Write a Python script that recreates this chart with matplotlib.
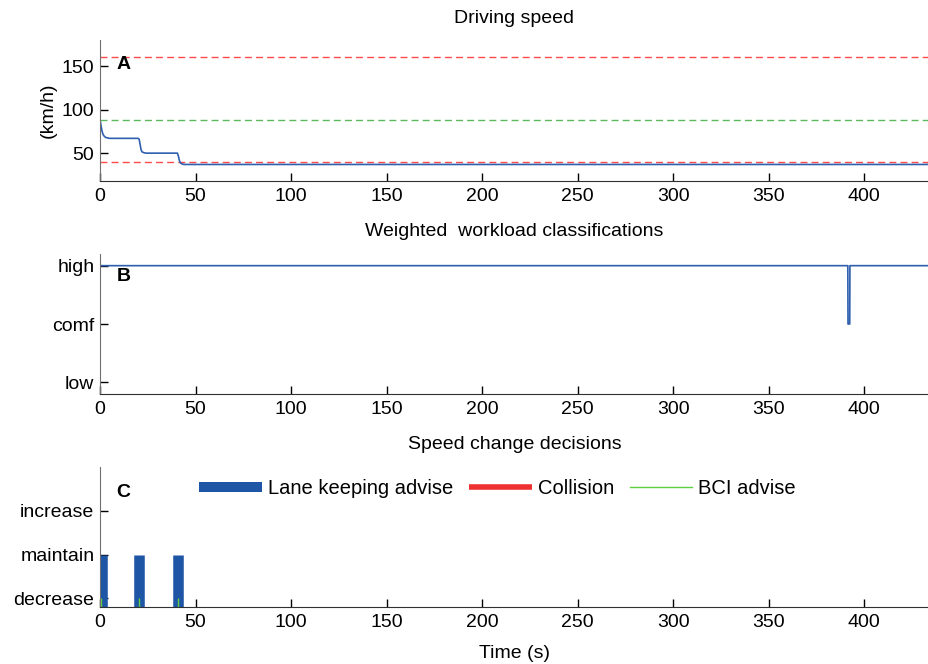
import numpy as np
import matplotlib
matplotlib.use("Agg")
import matplotlib.pyplot as plt
from matplotlib.lines import Line2D

plt.rcParams['font.family'] = ['Liberation Sans', 'DejaVu Sans']
plt.rcParams['font.size'] = 14

# ---- data ----
# driving speed (km/h)
speed_t = [0, 0.5, 1, 1.5, 2, 3, 4, 5, 20, 20.5, 21, 21.5, 22, 23, 24,
           40.5, 41, 41.5, 42, 43, 44, 434]
speed_v = [88.5, 82, 76, 72, 70, 68, 67.5, 67, 67, 66, 60, 54, 51.5, 50.5, 50,
           50, 47, 42, 39, 37.5, 37, 37]
speed_limits_red = [160, 40]
speed_ref_green = 88.5

# weighted workload (1=low, 2=comf, 3=high)
work_t = [0, 391.5, 391.6, 392.5, 392.6, 434]
work_v = [3, 3, 2, 2, 3, 3]
work_labels = ['low', 'comf', 'high']

# speed change decisions (1=decrease, 2=maintain, 3=increase)
dec_labels = ['decrease', 'maintain', 'increase']
lane_t = [0.8, 20.5, 40.6]
lane_v = [2, 2, 2]
bci_t = [0.5, 20.5, 40.6]
bci_v = [1, 1, 1]
collision_t = []
collision_v = []

xticks = list(range(0, 401, 50))

# ---- figure ----
fig = plt.figure(figsize=(9.29, 6.64), dpi=100)
W, H = 929.0, 664.0
left = 100 / W
width = 1 - left


def make_ax(top_px, bot_px):
    ax = fig.add_axes([left, 1 - bot_px / H, width, (bot_px - top_px) / H])
    for s in ['top', 'right']:
        ax.spines[s].set_visible(False)
    ax.spines['left'].set_color('#707070')
    ax.spines['bottom'].set_color('#303030')
    ax.tick_params(direction='in', length=6, width=1)
    ax.tick_params(axis='x', pad=5)
    ax.tick_params(axis='y', pad=4)
    ax.set_xlim(0, 434)
    ax.set_xticks(xticks)
    return ax


blue = '#2f5fae'

# A: driving speed
axA = make_ax(40, 181)
for yv in speed_limits_red:
    axA.axhline(yv, color='#ff4a4a', lw=1, ls=(0, (5, 3)))
axA.axhline(speed_ref_green, color='#5cb85c', lw=1, ls=(0, (5, 3)))
axA.plot(speed_t, speed_v, color=blue, lw=1.2)
axA.set_ylim(18, 180)
axA.set_yticks([50, 100, 150])
axA.set_ylabel('(km/h)')
axA.set_title('Driving speed', fontsize=14, pad=12)
axA.text(0.02, 0.89, 'A', transform=axA.transAxes, fontweight='bold',
         fontsize=14, va='top', ha='left')

# B: workload
axB = make_ax(254, 394)
axB.plot(work_t, work_v, color=blue, lw=1.2)
axB.set_ylim(0.8, 3.2)
axB.set_yticks([1, 2, 3])
axB.set_yticklabels(work_labels)
axB.set_title('Weighted  workload classifications', fontsize=14, pad=13)
axB.text(0.02, 0.9, 'B', transform=axB.transAxes, fontweight='bold',
         fontsize=14, va='top', ha='left')

# C: decisions
axC = make_ax(467, 607)
axC.vlines(lane_t, 0, lane_v, color='#1f55a5', lw=7.6, capstyle='butt')
axC.plot(collision_t, collision_v, color='#ee3030', lw=4)
axC.vlines(bci_t, 0, bci_v, color='#5fcf40', lw=1)
axC.set_ylim(0.8, 4)
axC.set_yticks([1, 2, 3])
axC.set_yticklabels(dec_labels)
axC.set_xlabel('Time (s)', labelpad=10)
axC.set_title('Speed change decisions', fontsize=14, pad=13)
axC.text(0.02, 0.88, 'C', transform=axC.transAxes, fontweight='bold',
         fontsize=14, va='top', ha='left')
# proxy handles for the legend
handles = [Line2D([], [], color='#1f55a5', lw=7.2, solid_capstyle='butt'),
           Line2D([], [], color='#ee3030', lw=4, solid_capstyle='butt'),
           Line2D([], [], color='#5fcf40', lw=1)]
axC.legend(handles, ['Lane keeping advise', 'Collision', 'BCI advise'],
           loc='upper left', bbox_to_anchor=(0.11, 0.97), ncol=3,
           frameon=False, handlelength=3.1, handletextpad=0.3,
           columnspacing=0.8, borderaxespad=0, fontsize=14.5)

fig.savefig('out.png', dpi=100)
